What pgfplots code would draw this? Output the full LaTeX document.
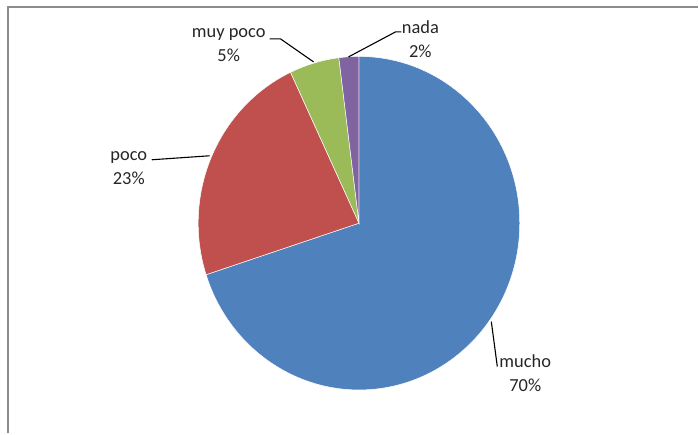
\documentclass[border=0pt]{standalone}
\usepackage{pgfplots}
\usepackage{pgfplotstable}
\usepackage{fontspec}
\setmainfont{Carlito}
\pgfplotsset{compat=1.18}

\definecolor{slice0}{HTML}{4F81BD}
\definecolor{slice1}{HTML}{C0504D}
\definecolor{slice2}{HTML}{9BBB59}
\definecolor{slice3}{HTML}{8064A2}
\definecolor{framegray}{HTML}{8C8C8C}

% shares in percent, clockwise from 12 o'clock
\pgfplotstableread[col sep=comma]{
label,pct
mucho,70
poco,23
muy poco,5
nada,2
}\piedata

\begin{document}
\begin{tikzpicture}
\begin{axis}[
    width=699bp, height=434bp,
    scale only axis,
    xmin=0, xmax=699, ymin=0, ymax=434,
    hide axis,
    clip=false,
]
% keep the whole canvas as the bounding box
\path (axis cs:0,0) rectangle (axis cs:699,434);
% pie centre and radii, in axis units (1 unit = 1bp)
\def\cx{359.5}
\def\cy{210.5}
\def\rx{161}
\def\ry{167}
\def\angA{90}
\pgfplotsforeachungrouped \i in {0,...,3}{%
    \pgfplotstablegetelem{\i}{pct}\of\piedata
    \pgfmathsetmacro\angB{\angA-3.6*\pgfplotsretval}
    \pgfmathsetmacro\px{\cx+\rx*cos(\angA)}
    \pgfmathsetmacro\py{\cy+\ry*sin(\angA)}
    \edef\cmd{\noexpand\fill[slice\i, draw=white, line width=0.5bp]
        (axis cs:\cx,\cy) -- (axis cs:\px,\py)
        arc[start angle=\angA, end angle=\angB, x radius=\rx bp, y radius=\ry bp] -- cycle;}
    \cmd
    \global\let\angA\angB
}

% leader lines
\draw[black, line width=1.1bp] (axis cs:492,112) -- (axis cs:498,67);
\draw[black, line width=1.1bp] (axis cs:152,274) -- (axis cs:210,278);
\draw[black, line width=1.1bp] (axis cs:270,395) -- (axis cs:281,395) -- (axis cs:314,372);
\draw[black, line width=1.1bp] (axis cs:349,377) -- (axis cs:396,402) -- (axis cs:402,402);

% data labels
\tikzset{lbl/.style={align=center, text=black!85, font=\fontsize{18.5}{24}\selectfont, inner sep=0pt}}
\node[lbl] at (axis cs:526,60) {mucho\\70\%};
\node[lbl] at (axis cs:129,265.5) {poco\\23\%};
\node[lbl] at (axis cs:229,389) {muy poco\\5\%};
\node[lbl] at (axis cs:421,395) {nada\\2\%};

% chart frame
\draw[framegray, line width=2bp] (axis cs:8,0) -- (axis cs:8,427) -- (axis cs:699,427);
\end{axis}
\end{tikzpicture}
\end{document}
